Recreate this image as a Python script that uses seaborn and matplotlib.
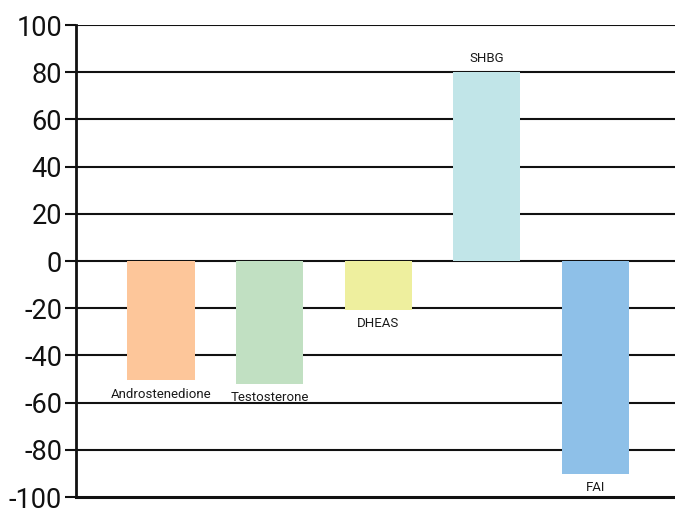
import matplotlib
matplotlib.use("Agg")
import matplotlib.pyplot as plt
import seaborn as sns
import pandas as pd

# Percent change by hormone
hormones = ["Androstenedione", "Testosterone", "DHEAS", "SHBG", "FAI"]
change = [-50.6, -52.1, -20.8, 80, -90.3]
bar_colors = ["#FDC69A", "#C1E0C2", "#EEEF9E", "#C1E5E8", "#8EC0E8"]
y_ticks = [-100, -80, -60, -40, -20, 0, 20, 40, 60, 80, 100]

df = pd.DataFrame({"hormone": hormones, "change": change})

sns.set_theme(style="white")
plt.rcParams["font.family"] = ["Roboto", "DejaVu Sans"]

fig = plt.figure(figsize=(6.75, 5.09), dpi=100)
ax = fig.add_axes([76 / 675, 1 - 497 / 509, 1 - 76 / 675, (497 - 25) / 509])

# horizontal reference lines
for t in y_ticks[1:]:
    ax.axhline(t, color="#111111", lw=1.5, zorder=0)

sns.barplot(data=df, x="hormone", y="change", hue="hormone",
            palette=bar_colors, width=0.62, legend=False,
            saturation=1, linewidth=0, edgecolor="none", ax=ax, zorder=2)

for i, (name, v) in enumerate(zip(hormones, change)):
    off = 10 if v > 0 else -10
    ax.annotate(name, (i, v), xytext=(0, off), textcoords="offset points",
                ha="center", va="center", fontsize=9.5, color="#1a1a1a")

ax.set_ylim(-100, 100)
ax.set_xlim(-0.783, 4.733)
ax.set_yticks(y_ticks)
ax.set_yticklabels([str(t) for t in y_ticks], fontsize=19.5, color="#111111")
ax.set_xticks([])
ax.set_xlabel("")
ax.set_ylabel("")
ax.tick_params(axis="y", left=True, length=8, width=1.5, color="#111111", pad=2)

for s in ["top", "right"]:
    ax.spines[s].set_visible(False)
ax.spines["left"].set_linewidth(2)
ax.spines["left"].set_color("#111111")
ax.spines["bottom"].set_linewidth(2.2)
ax.spines["bottom"].set_color("#111111")

fig.savefig("out.png", dpi=100)
